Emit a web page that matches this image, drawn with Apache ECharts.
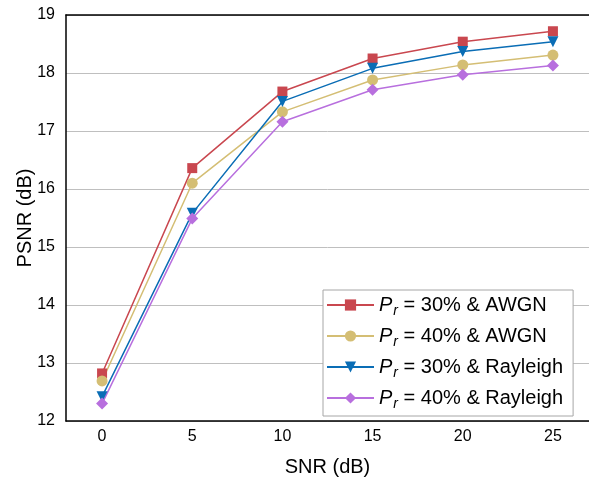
<!DOCTYPE html>
<html>
<head>
<meta charset="utf-8">
<script src="https://cdn.jsdelivr.net/npm/echarts@6/dist/echarts.min.js"></script>
<style>
html,body{margin:0;padding:0;background:#fff;}
#chart{width:589px;height:482px;}
</style>
</head>
<body>
<div id="chart"></div>
<script>
var snr = [0, 5, 10, 15, 20, 25];
var xTicks = [0, 5, 10, 15, 20, 25];
var yTicks = [12, 13, 14, 15, 16, 17, 18, 19];
var pr30Awgn = [12.82, 16.36, 17.68, 18.25, 18.54, 18.72];
var pr40Awgn = [12.69, 16.10, 17.33, 17.88, 18.14, 18.31];
var pr30Rayleigh = [12.42, 15.58, 17.51, 18.08, 18.37, 18.54];
var pr40Rayleigh = [12.30, 15.49, 17.16, 17.71, 17.97, 18.13];
var seriesNames = ['30% & AWGN', '40% & AWGN', '30% & Rayleigh', '40% & Rayleigh'];

var FONT = '"Liberation Sans", Arial, sans-serif';
function pairs(vals){ return snr.map(function(x,i){ return [x, vals[i]]; }); }

var colors = ['#C9474F', '#D4BE74', '#0A6DB5', '#B86FDE'];
var symbols = ['rect', 'circle', 'triangle', 'diamond'];
var sizes = [10, 11, 11, 12];
var rotates = [0, 0, 180, 0];
var datas = [pr30Awgn, pr40Awgn, pr30Rayleigh, pr40Rayleigh];

var series = datas.map(function(d, i){
  return {
    name: seriesNames[i],
    type: 'line',
    data: pairs(d),
    symbol: symbols[i],
    symbolSize: sizes[i],
    symbolRotate: rotates[i],
    showAllSymbol: true,
    lineStyle: {color: colors[i], width: 1.5},
    itemStyle: {color: colors[i]},
    emphasis: {disabled: true},
    animation: false
  };
});

var chart = echarts.init(document.getElementById('chart'), null, {renderer: 'canvas'});
chart.setOption({
  backgroundColor: '#fff',
  animation: false,
  grid: {left: 66, top: 15, bottom: 61, width: 525, containLabel: false},
  xAxis: [{
    type: 'value', min: -2, max: 27,
    name: 'SNR (dB)', nameLocation: 'middle', nameGap: 36, nameMoveOverlap: false,
    nameTextStyle: {fontFamily: FONT, fontSize: 20, color: '#000'},
    axisLine: {show: true, onZero: false, lineStyle: {color: '#000', width: 1.5}},
    axisTick: {show: false},
    splitLine: {show: false},
    axisLabel: {customValues: xTicks, fontFamily: FONT, fontSize: 16, color: '#000', margin: 8}
  }, {
    type: 'value', min: -2, max: 27, position: 'top',
    axisLine: {show: true, onZero: false, lineStyle: {color: '#000', width: 1.5}},
    axisTick: {show: false}, axisLabel: {show: false}, splitLine: {show: false}
  }],
  yAxis: {
    type: 'value', min: yTicks[0], max: yTicks[yTicks.length-1], interval: 1,
    name: 'PSNR (dB)', nameLocation: 'middle', nameGap: 31, nameMoveOverlap: false,
    nameTextStyle: {fontFamily: FONT, fontSize: 20, color: '#000'},
    axisLine: {show: true, onZero: false, lineStyle: {color: '#000', width: 1.5}},
    axisTick: {show: false},
    splitLine: {show: true, lineStyle: {color: '#BFBFBF', width: 1}},
    axisLabel: {fontFamily: FONT, fontSize: 16, color: '#000', margin: 11}
  },
  legend: {
    left: 323, top: 290, orient: 'vertical',
    backgroundColor: '#fff', borderColor: '#A6A6A6', borderWidth: 1,
    padding: [5, 10, 5, 3], itemGap: 8,
    itemWidth: 47, itemHeight: 14,
    data: seriesNames,
    formatter: function(n){ return '{p|P}{r|r}{t| = ' + n + '}'; },
    textStyle: {
      fontFamily: FONT, fontSize: 20, color: '#000',
      rich: {
        p: {fontFamily: FONT, fontStyle: 'italic', fontSize: 20, color: '#000'},
        r: {fontFamily: FONT, fontStyle: 'italic', fontSize: 14, color: '#000', padding: [12, 0, 0, 1]},
        t: {fontFamily: FONT, fontSize: 20, color: '#000'}
      }
    }
  },
  series: series
});
</script>
</body>
</html>
